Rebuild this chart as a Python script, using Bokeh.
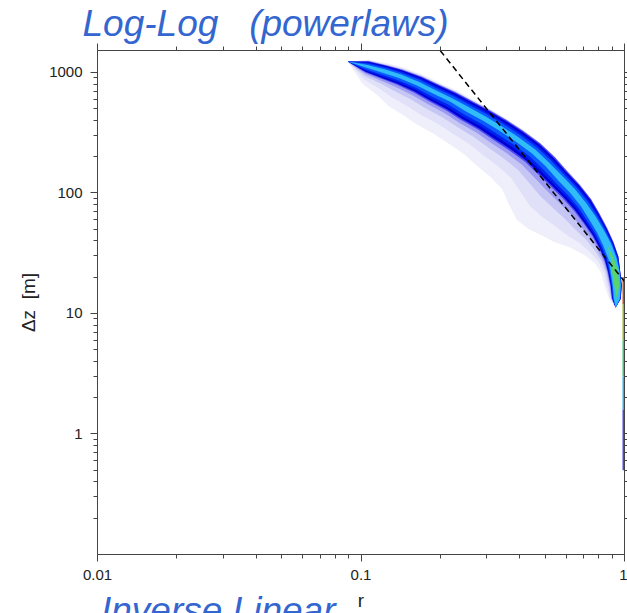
import numpy as np
from bokeh.plotting import figure
from bokeh.models import Range1d, LogAxis, FixedTicker, CustomJSTickFormatter, Div
from bokeh.layouts import column
from bokeh.embed import file_html
from bokeh.resources import INLINE

# ---------------- data ----------------
# ridge (density maximum) of the r / dz distribution
ridge_r = [0.089, 0.1055, 0.123, 0.141, 0.165, 0.188, 0.22, 0.254, 0.295, 0.338,
           0.39, 0.452, 0.51, 0.571, 0.635, 0.699, 0.755, 0.811, 0.86, 0.90,
           0.92, 0.935, 0.935, 0.925]
ridge_dz = [1230, 1121, 1020, 926, 805, 695, 590, 493, 412, 343,
            280, 221, 172, 132, 104, 80, 62, 47.9, 37, 28.6,
            22.5, 17, 13.3, 11.2]
# spread of the distribution across the ridge (in decades), outer halo
halo_up = [0, .058, .070, .078, .084, .088, .091, .092, .095, .095, .095, .091,
           .091, .087, .083, .075, .071, .066, .058, .050, .041, .041, .033, 0]
halo_lo = [0, .149, .207, .266, .290, .307, .315, .324, .340, .365, .382, .407,
           .456, .498, .481, .432, .373, .282, .207, .149, .116, .100, .066, 0]
# spread of the dense (blue) band
band_up = [0, .045, .052, .058, .064, .069, .073, .077, .081, .085, .085, .085,
           .085, .081, .077, .077, .068, .060, .056, .052, .043, .041, .033, 0]
band_lo = [0, .052, .066, .073, .081, .088, .096, .104, .106, .112, .112, .112,
           .112, .104, .102, .093, .085, .077, .073, .068, .060, .052, .041, 0]
# half-width of the densest core and the peak near the end
core = [0, .012, .017, .017, .017, .017, .017, .021, .021, .021, .021, .021,
        .021, .025, .025, .025, .029, .029, .033, .033, .037, .033, .025, 0]
peak = [0, 0, 0, 0, 0, 0, 0, 0, 0, 0, 0, 0,
        0, 0, 0, 0, 0, 0, 0, .012, .025, .021, 0, 0]

# power law reference line
powerlaw_r = [0.2, 1.0]
powerlaw_dz = [1514, 18.4]

# narrow strip of points at r = 1
strip_top = [20, 12, 6, 3, 1.6]
strip_bottom = [12, 6, 3, 1.6, 0.5]
strip_colors = ["#c8501e", "#98b828", "#3cc878", "#30b4e8", "#4a4ae0"]

x_ticks = [0.01, 0.1, 1]
y_ticks = [1, 10, 100, 1000]
x_range = (0.01, 1.0)
y_range = (0.1, 1520)

NB = "\u00a0"
TITLE = "Log-Log" + NB * 3 + "(powerlaws)"
SUBTITLE = "Inverse Linear"
X_LABEL = "r"
Y_LABEL = "\u0394z" + NB * 2 + "[m]"

# ---------------- figure ----------------
W, H = 627, 613
B_LEFT, B_RIGHT, B_TOP, B_BOTTOM = 97, 3, 49, 59
FONT = "Liberation Sans"
BLUE = "#3466d0"
LC = "#444444"

p = figure(width=W, height=H, x_axis_type="log", y_axis_type="log",
           x_range=Range1d(*x_range), y_range=Range1d(*y_range),
           output_backend="svg", toolbar_location=None,
           min_border_left=B_LEFT, min_border_right=B_RIGHT,
           min_border_top=B_TOP, min_border_bottom=B_BOTTOM)
p.grid.visible = False
p.background_fill_color = "white"
p.border_fill_color = "white"
p.outline_line_color = LC

p.title.text = TITLE
p.title.align = "left"
p.title.offset = -15
p.title.standoff = 0
p.title.text_font = FONT
p.title.text_font_style = "italic"
p.title.text_font_size = "37px"
p.title.text_color = BLUE

# screen aspect of one x decade vs one y decade
fw = W - B_LEFT - B_RIGHT
fh = H - B_TOP - B_BOTTOM
k = (fw / (np.log10(x_range[1]) - np.log10(x_range[0]))) / \
    (fh / (np.log10(y_range[1]) - np.log10(y_range[0])))

X = np.log10(np.array(ridge_r)) * k
Y = np.log10(np.array(ridge_dz))
dX = np.gradient(X)
dY = np.gradient(Y)
L = np.hypot(dX, dY)
nx, ny = -dY / L, dX / L


def band(up, lo):
    up = np.asarray(up)
    lo = np.asarray(lo)
    ux, uy = X + up * nx, Y + up * ny
    lx, ly = X - lo * nx, Y - lo * ny
    xs = np.concatenate([ux, lx[::-1]])
    ys = np.concatenate([uy, ly[::-1]])
    return list(10 ** (xs / k)), list(10 ** ys)


hu, hl = np.array(halo_up), np.array(halo_lo)
bu, bl = np.array(band_up), np.array(band_lo)
c = np.array(core)


def mix(a, b, t):
    return b + t * (a - b)


levels = [
    (mix(hu, bu, 1.0), mix(hl, bl, 1.0), "#efeffc"),
    (mix(hu, bu, 0.6), mix(hl, bl, 0.6), "#e0e0f9"),
    (mix(hu, bu, 0.3), mix(hl, bl, 0.3), "#c6c6f5"),
    (mix(hu, bu, 0.12), mix(hl, bl, 0.12), "#9a9af2"),
    (bu, bl, "#4848f4"),
    (mix(bu, c, 0.85), mix(bl, c, 0.85), "#0000d4"),
    (mix(bu, c, 0.6), mix(bl, c, 0.6), "#0022f0"),
    (mix(bu, c, 0.35), mix(bl, c, 0.35), "#0a5aff"),
    (c, c, "#30bcf8"),
    (np.array(peak), np.array(peak), "#5ad46a"),
]
xs_all, ys_all, cols = [], [], []
for up, lo, col in levels:
    xs, ys = band(up, lo)
    xs_all.append(xs)
    ys_all.append(ys)
    cols.append(col)
p.patches(xs_all, ys_all, fill_color=cols, line_color=None)

# strip at r = 1
p.segment(x0=[1.0] * len(strip_top), y0=strip_top, x1=[1.0] * len(strip_top),
          y1=strip_bottom, line_color=strip_colors, line_width=4)

# power law
p.line(powerlaw_r, powerlaw_dz, line_color="black", line_width=1.5, line_dash="6 4")

# ---------------- axes ----------------
def minors(lo_exp, hi_exp):
    return [m * 10.0 ** e for e in range(lo_exp, hi_exp) for m in range(2, 10)]


xt = FixedTicker(ticks=x_ticks, minor_ticks=minors(-2, 0))
yt = FixedTicker(ticks=y_ticks, minor_ticks=minors(-1, 4))
fmt = CustomJSTickFormatter(code="return tick.toString();")
blank = CustomJSTickFormatter(code="return '';")

for ax in (p.xaxis[0], p.yaxis[0]):
    ax.formatter = fmt
    ax.major_label_text_font = FONT
    ax.major_label_text_font_size = "15px"
    ax.major_label_text_color = "#222222"
    ax.major_tick_out = 7
    ax.major_tick_in = 0
    ax.minor_tick_out = 4
    ax.minor_tick_in = 0
    ax.major_label_standoff = 8
    ax.axis_label_standoff = 7
    ax.axis_line_color = LC
    ax.major_tick_line_color = LC
    ax.minor_tick_line_color = LC
    ax.axis_label_text_font = FONT
    ax.axis_label_text_font_style = "normal"
    ax.axis_label_text_font_size = "19px"
    ax.axis_label_text_color = "#222222"
p.xaxis[0].ticker = xt
p.yaxis[0].ticker = yt
p.xaxis[0].axis_label = X_LABEL
p.yaxis[0].axis_label = Y_LABEL

top_ax = LogAxis(ticker=xt, formatter=blank, major_label_standoff=0,
                 major_tick_out=7, major_tick_in=0, minor_tick_out=4, minor_tick_in=0,
                 axis_line_color=LC, major_tick_line_color=LC, minor_tick_line_color=LC)
p.add_layout(top_ax, "above")
right_ax = LogAxis(ticker=yt, formatter=blank, major_label_standoff=0,
                   major_tick_out=3, major_tick_in=0, minor_tick_out=3, minor_tick_in=0,
                   axis_line_color=LC, major_tick_line_color=LC, minor_tick_line_color=LC)
p.add_layout(right_ax, "right")

# ---------------- lower (cut off) heading ----------------
SUB_H = 23
sub = Div(text=SUBTITLE, width=400, height=SUB_H, margin=(-SUB_H, 0, 0, 101),
          styles={"font-family": FONT, "font-style": "italic", "font-size": "37px",
                  "color": BLUE, "line-height": "1.15", "white-space": "nowrap",
                  "overflow": "visible"})

layout = column(p, sub, spacing=0)
open("out.html", "w").write(file_html(layout, INLINE))
